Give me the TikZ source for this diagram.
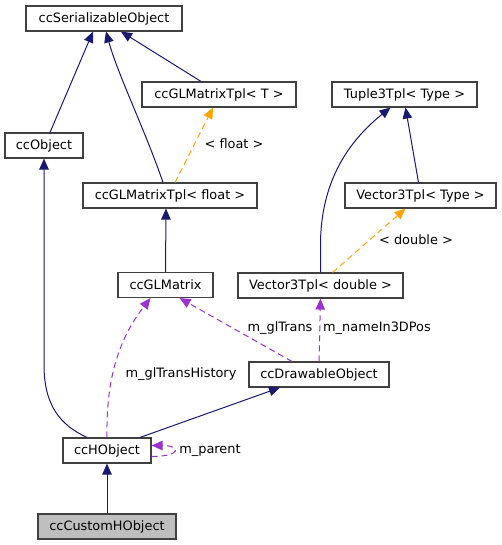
\documentclass[tikz,border=0pt]{standalone}
\usepackage{fontspec}
\setmainfont{DejaVu Sans}
\usepackage{tikz}
\usetikzlibrary{arrows.meta, positioning, calc}
\definecolor{inhcolor}{HTML}{191970}
\definecolor{tplcolor}{HTML}{FFA500}
\definecolor{memcolor}{HTML}{9A32CD}
\definecolor{boxline}{HTML}{404040}
\definecolor{focusfill}{HTML}{BFBFBF}

\begin{document}
\begin{tikzpicture}[
  x=1pt, y=-1pt,
  font=\fontsize{12.9}{15}\selectfont,
  cls/.style={draw=boxline, fill=white, line width=1.1pt, inner sep=0pt,
              minimum height=25pt},
  focus/.style={cls, fill=focusfill},
  inherit/.style={draw=inhcolor, line width=1pt, -{Triangle[length=11pt, width=9.5pt]}},
  tmpl/.style={draw=tplcolor, line width=1pt, dash pattern=on 6pt off 4pt,
               -{Triangle[length=11pt, width=9.5pt]}},
  member/.style={draw=memcolor, line width=1pt, dash pattern=on 6pt off 4pt,
                 -{Triangle[length=11pt, width=9.5pt]}},
  lbl/.style={inner sep=1pt},
]
  \useasboundingbox (0,0) rectangle (501,545);

  % Classes
  \node[cls, minimum width=156pt] (ser) at (104,18.5) {ccSerializableObject};
  \node[cls, minimum width=154pt] (tplT) at (219,94.5) {ccGLMatrixTpl< T >};
  \node[cls, minimum width=145pt] (tuple) at (404.5,94.5) {Tuple3Tpl< Type >};
  \node[cls, minimum width=78pt] (obj) at (44,145.5) {ccObject};
  \node[cls, minimum width=174pt] (tplF) at (170,195.5) {ccGLMatrixTpl< float >};
  \node[cls, minimum width=151pt] (vecT) at (420.5,195.5) {Vector3Tpl< Type >};
  \node[cls, minimum width=95pt] (glm) at (165.5,285) {ccGLMatrix};
  \node[cls, minimum width=165pt] (vecD) at (320.5,285.5) {Vector3Tpl< double >};
  \node[cls, minimum width=140pt] (drw) at (319,374.5) {ccDrawableObject};
  \node[cls, minimum width=88pt] (hobj) at (107,450.5) {ccHObject};
  \node[focus, minimum width=138pt] (custom) at (107,526.5) {ccCustomHObject};

  % Inheritance
  \draw[inherit] ([xshift=6pt]obj.north) -- ([xshift=-11pt]ser.south);
  \draw[inherit] ([xshift=-7pt]tplF.north) .. controls (145,130) and (118,75) .. ([xshift=2pt]ser.south);
  \draw[inherit] ([xshift=-18pt]tplT.north) -- ([xshift=17pt]ser.south);
  \draw[inherit] (glm.north) -- ([xshift=-4pt]tplF.south);
  \draw[inherit] (vecD.north) -- (320.5,245) .. controls (320.5,180) and (350,140) .. ([xshift=-14pt]tuple.south);
  \draw[inherit] ([xshift=-2pt]vecT.north) -- ([xshift=1pt]tuple.south);
  \draw[inherit] ([xshift=-20pt]hobj.north) .. controls (60,425) and (44,405) .. (44,365) -- (obj.south);
  \draw[inherit] ([xshift=33pt]hobj.north) -- ([xshift=-39pt]drw.south);
  \draw[inherit] (custom.north) -- (hobj.south);

  % Template instances
  \draw[tmpl] ([xshift=5pt]tplF.north) -- ([xshift=-6pt]tplT.south);
  \node[lbl] (lfloat) at (234,144) {< float >};
  \draw[tmpl] ([xshift=12pt]vecD.north) -- ([xshift=-15pt]vecT.south);
  \node[lbl] (ldouble) at (416,240) {< double >};

  % Members
  \draw[member] ([xshift=-27pt]drw.north) -- ([xshift=14pt]glm.south);
  \node[lbl] (lgltrans) at (280,328) {m\_glTrans};
  \draw[member] (drw.north) -- (vecD.south);
  \node[lbl] (lname) at (377,328) {m\_nameIn3DPos};
  \draw[member] (hobj.north) .. controls (106,380) and (118,340) .. ([xshift=-15pt]glm.south);
  \node[lbl] (lhist) at (181,374) {m\_glTransHistory};
  \draw[member] ([yshift=-6pt]hobj.east) .. controls +(30,0) and +(30,0) .. ([yshift=5pt]hobj.east);
  \node[lbl] (lparent) at (210,450) {m\_parent};
\end{tikzpicture}
\end{document}
